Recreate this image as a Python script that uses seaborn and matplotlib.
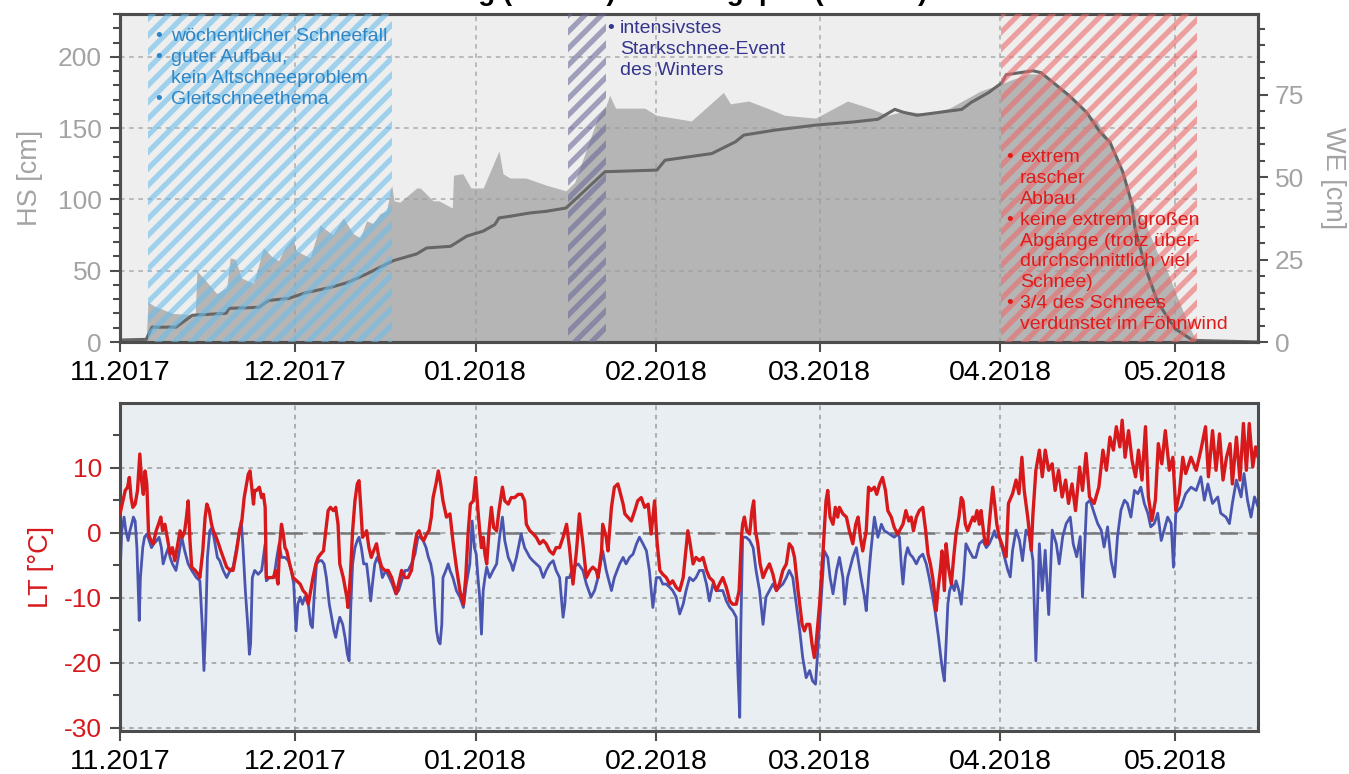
import numpy as np
import pandas as pd
import matplotlib
matplotlib.use("Agg")
import matplotlib.pyplot as plt
import matplotlib.dates as mdates
from matplotlib.ticker import MultipleLocator
import seaborn as sns

# ---------------------------------------------------------------------------
# Data (time given in days since 01.11.2017)
# ---------------------------------------------------------------------------
START = pd.Timestamp("2017-11-01")
X_END_DAYS = 195.2

# Snow depth HS [cm]
hs_days = [0, 4.5, 4.8, 6.0, 9.1, 12.9, 13.2, 16.6, 18.3, 18.9, 19.8, 20.8, 22.9,
           24.6, 26.0, 27.2, 28.3, 29.7, 30.2, 32.6, 34.3, 36.5, 38.3, 40.0, 41.2,
           42.3, 43.4, 44.6, 45.7, 46.6, 47.0, 48.0, 50.9, 51.5, 53.7, 54.7, 57.0,
           57.2, 58.8, 60.2, 62.3, 65.0, 65.7, 66.9, 69.6, 73.1, 76.5, 78.0, 80.0,
           82.0, 83.3, 84.0, 85.0, 90.0, 92.0, 98.0, 103.5, 104.7, 107.8, 111.0,
           114.0, 119.3, 124.8, 128.6, 131.7, 134.6, 138.5, 142.3, 145.4, 147.6,
           151.2, 153.0, 156.0, 158.0, 160.0, 163.0, 165.5, 167.6, 170.5, 172.0,
           173.8, 176.0, 178.0, 179.6, 181.5, 183.5, 184.7, 195.2]
hs_vals = [2, 2, 28, 25, 20, 19, 50, 34, 38, 59, 58, 45, 41,
           66, 60, 57, 66, 73, 64, 59, 82, 75, 87, 76, 73,
           85, 83, 90, 92, 110, 99, 98, 108, 108, 99, 99, 94,
           117, 118, 108, 108, 134, 118, 115, 115, 110, 106, 112, 135,
           158, 165, 173, 164, 164, 159, 155, 175, 167, 169, 164,
           159, 157, 169, 164, 159, 162, 160, 164, 171, 176,
           181, 184, 188, 188, 182, 172, 161, 155, 135, 120,
           97, 82, 62, 50, 30, 10, 0, 0]

# Water equivalent WE [cm]
we_days = [0, 4.5, 5.0, 5.5, 9.6, 12.4, 18.2, 18.7, 23.8, 25.5, 28.9, 32.0, 36.0,
           39.0, 42.4, 46.8, 50.9, 52.6, 56.7, 59.5, 62.3, 64.3, 65.0, 66.9, 70.3,
           73.1, 76.5, 83.2, 92.1, 93.5, 101.5, 105.6, 107.0, 112.3, 119.2, 125.9,
           130.0, 132.9, 134.4, 136.7, 144.4, 146.0, 149.0, 151.3, 152.0, 156.6,
           158.0, 162.8, 165.8, 168.1, 169.8, 172.0, 173.6, 174.1, 176.0, 178.0,
           181.0, 184.0, 195.2]
we_vals = [0.6, 0.8, 2.7, 4.5, 4.5, 8.1, 8.7, 10.2, 10.5, 12.6, 13.2, 15.0, 16.5,
           18.0, 20.7, 24.6, 26.7, 28.5, 29.0, 32.1, 33.6, 35.6, 37.6, 38.1, 39.1,
           39.6, 40.6, 51.6, 52.1, 55.1, 57.1, 60.7, 62.7, 64.2, 65.7, 66.7,
           67.5, 70.5, 69.6, 68.7, 70.5, 72.6, 75.6, 78.6, 81.0, 82.2,
           81.6, 74.7, 69.6, 63.6, 60.6, 51.6, 41.7, 34.5, 22.0, 12.0,
           4.0, 0.5, 0.0]

# Air temperature LT [°C] (red), in four stretches
lt_days_a = [0.0, 0.5, 0.9, 1.3, 1.6, 1.9, 2.2, 2.6, 3.0, 3.4,
             3.7, 4.0, 4.3, 4.6, 4.9, 5.3, 5.7, 6.2, 6.6, 7.0,
             7.3, 7.7, 8.1, 8.6, 9.0, 9.4, 9.8, 10.3, 10.7, 11.1,
             11.4, 11.7, 12.0, 12.3, 12.9, 13.4, 13.7, 14.2, 14.6, 14.9,
             15.3, 15.7, 16.0, 16.5, 16.9, 17.3, 17.7, 18.3, 18.9, 19.4,
             20.0, 20.5, 20.9, 21.3, 21.7, 22.0, 22.3, 22.6, 22.9, 23.1,
             23.4, 23.9, 24.3, 24.6, 24.9, 25.1, 25.7, 26.3, 26.7, 27.1,
             27.4, 27.7, 28.0, 28.3, 28.6, 29.1, 29.7, 30.3, 30.9, 31.4,
             31.9, 32.3, 32.7, 33.1, 33.6, 34.0, 34.4, 34.9, 35.3, 35.7,
             36.1, 36.6, 37.0, 37.4, 37.7, 38.3, 38.9, 39.1, 39.5, 39.9,
             40.3, 40.7, 41.0, 41.3, 41.6, 42.0, 42.3, 42.7, 43.1, 43.5,
             44.0, 44.4, 44.9, 45.4, 46.0, 46.6, 47.1, 47.4, 47.9, 48.3,
             48.9, 49.4, 50.0, 50.4, 50.9, 51.3, 51.7, 52.1, 52.6, 53.0,
             53.4, 53.7, 54.2, 54.6, 55.0, 55.4, 56.0]
lt_vals_a = [2.9, 4.9, 6.5, 7.0, 8.5, 5.4, 3.9, 4.4, 6.5, 12.1,
             8.0, 5.9, 9.5, 7.5, -0.2, -1.2, -1.7, 0.3, 1.3, 2.4,
             0.3, 1.3, -0.7, -3.3, -2.3, -4.3, -2.3, 0.3, -0.7, 0.3,
             2.4, 4.9, -1.2, -5.3, -5.8, -6.4, -6.9, -2.8, 2.4, 4.4,
             3.4, 1.3, 0.3, -0.7, -1.7, -2.8, -3.8, -5.3, -5.8, -5.8,
             -2.8, 0.3, 1.8, 5.4, 7.5, 9.0, 9.5, 7.0, 4.4, 6.5,
             6.5, 7.0, 5.4, 5.9, 3.9, -6.9, -6.9, -6.9, -5.8, -7.9,
             -1.7, 1.3, -0.2, -2.3, -2.8, -4.8, -6.9, -7.4, -7.9, -8.9,
             -9.4, -11.0, -8.9, -6.9, -4.8, -3.8, -3.3, -2.8, 0.3, 3.4,
             3.9, 3.4, 3.9, 1.3, -4.8, -6.9, -9.9, -11.5, -6.9, 0.3,
             4.9, 7.5, 8.0, 3.9, -0.7, -0.2, 0.3, -2.3, -3.8, -2.8,
             -1.7, -3.8, -5.3, -5.8, -5.8, -6.9, -8.4, -9.4, -7.4, -5.8,
             -6.9, -6.9, -5.8, -2.8, -0.2, 0.3, -0.7, -1.2, -0.2, 0.3,
             2.4, 5.4, 7.5, 9.5, 7.5, 4.9, 2.4]

lt_days_b = [56.6, 57.1, 57.7, 58.3, 58.9, 59.3, 59.7, 60.1, 60.6, 61.0,
             61.4, 61.7, 62.0, 62.3, 62.6, 62.9, 63.3, 63.7, 64.1, 64.6,
             65.0, 65.6, 66.0, 66.6, 67.1, 67.7, 68.3, 68.9, 69.4, 69.7,
             70.3, 70.9, 71.4, 72.0, 72.6, 73.1, 73.7, 74.3, 74.8, 75.4,
             76.0, 76.6, 77.1, 77.7, 78.3, 78.8, 79.4, 80.0, 80.6, 81.1,
             81.7, 82.0, 82.6, 82.8, 83.4, 83.7, 84.3, 84.8, 85.4, 85.7,
             86.3, 86.6, 87.1, 87.7, 88.3, 88.8, 89.4, 90.0, 90.6, 91.1,
             91.7, 92.1, 92.6, 93.1, 93.7, 94.3, 94.8, 95.4, 96.0, 96.6,
             97.0, 97.4, 97.8, 98.3, 98.8, 99.4, 100.0, 100.6, 101.1, 101.7,
             102.3, 102.8, 103.4, 104.0, 104.6, 105.1, 105.7, 106.2, 106.6, 106.8,
             107.1, 107.5, 108.0, 108.4, 108.7, 109.0, 109.4, 109.8, 110.3, 110.8,
             111.4, 112.0, 112.6, 113.1, 113.7, 114.3, 114.8, 115.3, 115.7, 116.3,
             116.6, 117.0, 117.4, 117.8, 118.3, 118.7, 119.1, 119.4, 119.7, 120.0,
             120.3, 120.6, 120.8, 121.1, 121.4, 121.8, 122.3, 122.7, 123.1, 123.4,
             124.0, 124.6, 125.1, 125.7, 126.2, 126.6, 127.0, 127.4, 128.0, 128.4,
             128.8, 129.4, 129.8, 130.3, 130.8, 131.3, 131.7, 132.3, 132.8, 133.4]
lt_vals_b = [2.9, -1.2, -5.3, -8.9, -11.0, -6.9, -0.2, 4.4, 4.9, 8.5,
             3.4, 0.3, -2.3, -0.7, -3.3, -4.8, 0.3, 3.9, 0.8, 0.3,
             3.4, 7.0, 4.9, 4.4, 5.4, 5.4, 5.9, 5.9, 4.9, 1.3,
             0.3, -0.2, -0.7, -1.7, -1.2, -1.7, -2.8, -3.3, -2.3, -2.3,
             -0.7, 1.3, -2.3, -7.9, -2.8, 2.9, -1.7, -6.9, -5.8, -5.3,
             -5.8, -6.9, -2.8, 1.3, -0.7, -2.8, 3.9, 7.0, 7.5, 6.5,
             4.4, 2.9, 2.4, 1.8, 3.4, 4.9, 5.4, 3.9, 4.4, -0.2,
             4.9, -1.2, -5.8, -6.4, -6.9, -7.9, -7.4, -8.4, -8.9, -6.9,
             -3.3, 0.3, -1.7, -4.8, -3.8, -4.3, -3.8, -5.8, -6.9, -7.4,
             -8.9, -7.9, -6.9, -8.4, -10.5, -11.0, -11.0, -8.9, -0.7, 1.3,
             2.4, 0.3, -0.2, 3.4, 4.9, 0.3, -1.7, -4.8, -6.9, -5.8,
             -4.8, -6.4, -8.9, -7.9, -5.8, -4.8, -1.7, -2.3, -3.8, -8.9,
             -11.0, -14.1, -15.1, -14.1, -14.1, -17.1, -19.2, -17.1, -14.1, -11.0,
             -6.9, -2.8, 0.3, 4.9, 6.5, 2.4, 1.3, 3.9, 2.4, 3.9,
             2.9, 2.4, 0.3, -1.7, 1.3, 2.4, -0.7, -2.8, 0.3, 7.0,
             6.5, 7.0, 5.9, 7.5, 8.5, 6.5, 3.4, 2.4, 0.8, -0.2]

lt_days_c = [133.7, 134.3, 134.8, 135.3, 135.7, 136.1, 136.6, 137.1, 137.7, 138.2,
             138.6, 139.0, 139.4, 139.8, 140.0, 140.3, 140.7, 141.0, 141.4, 141.7,
             142.1, 142.6, 143.0, 143.4, 143.9, 144.3, 144.6, 145.0, 145.4, 145.8,
             146.3, 146.6, 147.0, 147.4, 147.7, 148.1, 148.4, 148.8, 149.2, 149.7,
             150.1, 150.4]
lt_vals_c = [0.3, 1.3, 3.4, 1.8, 2.4, 0.3, 2.4, 3.4, 3.9, 0.3,
             -3.3, -4.8, -6.9, -9.9, -12.0, -8.9, -5.8, -2.8, -8.9, -1.7,
             -5.3, -7.9, -3.8, -0.2, 2.4, 5.4, 4.9, 1.3, 0.3, 1.3,
             2.4, 1.8, 3.4, 1.3, 3.4, 0.3, -1.7, -1.7, 2.4, 7.0,
             3.9, 1.3]

lt_days_d = [150.8, 151.4, 152.0, 152.4, 153.1, 153.7, 154.2, 154.7, 155.1, 155.7,
             156.3, 156.6, 157.1, 157.7, 158.2, 158.7, 159.3, 159.9, 160.4, 161.0,
             161.6, 162.2, 162.7, 163.3, 163.9, 164.6, 165.1, 165.7, 166.3, 167.1,
             167.9, 168.6, 169.2, 169.8, 170.4, 170.9, 171.5, 171.9, 172.4, 173.0,
             173.6, 174.2, 174.7, 175.3, 175.9, 176.4, 177.0, 177.6, 178.1, 178.7,
             179.3, 180.0, 180.6, 181.1, 181.7, 182.3, 182.8, 183.7, 184.6, 185.4,
             186.2, 186.7, 187.4, 188.0, 188.6, 189.2, 189.8, 190.4, 190.8, 191.5,
             192.1, 192.7, 193.2, 193.7, 194.3, 194.8, 195.2]
lt_vals_d = [-0.6, -2.1, -3.7, 4.5, 6.0, 8.1, 6.0, 11.6, 6.5, 2.4,
             -2.7, 2.9, 9.6, 12.7, 8.6, 12.7, 9.6, 10.6, 6.5, 9.6,
             5.5, 8.1, 4.5, 7.5, 3.4, 10.1, 6.5, 12.2, 5.5, 4.5,
             7.0, 12.7, 9.6, 14.7, 12.7, 16.3, 13.2, 17.3, 11.6, 15.7,
             11.1, 8.6, 12.7, 8.1, 16.3, 5.5, 1.9, 5.0, 13.7, 10.6,
             15.7, 9.6, 11.6, 3.4, 6.0, 11.6, 9.1, 11.6, 9.6, 12.7,
             16.3, 8.6, 15.7, 9.6, 15.2, 8.1, 11.6, 13.7, 7.5, 14.7,
             8.1, 16.8, 9.6, 16.8, 10.1, 13.2, 11.6]

# Second temperature series (blue), same four stretches
ts_days_a = [0.0, 0.3, 0.7, 1.0, 1.4, 1.7, 2.0, 2.3, 2.6, 2.9,
             3.3, 3.5, 3.9, 4.2, 4.6, 5.0, 5.4, 5.8, 6.3, 6.7,
             7.1, 7.4, 7.9, 8.3, 8.6, 9.0, 9.6, 10.0, 10.6, 11.1,
             11.7, 12.3, 13.1, 13.7, 14.1, 14.4, 14.7, 15.0, 15.4, 15.8,
             16.3, 16.7, 17.1, 17.7, 18.3, 18.9, 19.4, 20.0, 20.5, 20.8,
             21.1, 21.5, 21.9, 22.2, 22.4, 22.7, 23.1, 23.7, 24.3, 24.9,
             25.1, 25.6, 26.0, 26.4, 26.9, 27.3, 27.7, 28.3, 28.9, 29.4,
             29.8, 30.2, 30.5, 30.9, 31.3, 31.7, 32.3, 32.7, 33.0, 33.3,
             33.7, 34.2, 34.6, 35.0, 35.4, 35.9, 36.3, 36.7, 37.0, 37.4,
             37.7, 38.2, 38.6, 39.0, 39.3, 39.6, 39.9, 40.3, 40.7, 41.0,
             41.4, 41.8, 42.3, 42.7, 43.0, 43.3, 43.7, 44.1, 44.6, 45.0,
             45.6, 46.2, 46.7, 47.3, 47.8, 48.3, 48.9, 49.4, 50.0, 50.6,
             51.1, 51.5, 52.0, 52.5, 52.9, 53.3, 53.7, 54.0, 54.3, 54.6,
             54.9, 55.2, 55.4, 55.9, 56.3]
ts_vals_a = [-6.9, 0.3, 2.4, 0.3, -1.2, 0.3, 1.3, 2.4, 1.8, -2.3,
             -13.5, -6.9, -2.3, -0.7, -0.2, -1.2, -2.3, -1.7, -1.2, -0.7,
             -2.3, -4.8, -3.3, -2.3, -3.8, -4.8, -5.8, -3.8, -0.7, -2.8,
             -4.8, -5.8, -6.9, -7.4, -14.1, -21.2, -14.1, -3.8, 0.3, 0.8,
             -1.7, -3.8, -4.3, -5.8, -6.9, -5.8, -5.3, -2.3, 0.3, 1.8,
             -2.3, -8.9, -14.1, -18.7, -17.1, -6.9, -5.8, -6.4, -5.8, -1.7,
             -7.4, -6.9, -6.9, -6.9, -3.8, -1.7, -3.8, -3.8, -4.3, -5.8,
             -7.9, -15.1, -11.0, -9.9, -11.0, -9.9, -11.0, -14.1, -14.6, -9.9,
             -4.8, -4.3, -4.3, -4.8, -6.9, -11.0, -13.0, -15.1, -16.1, -14.1,
             -13.0, -14.1, -16.1, -18.7, -19.7, -11.0, -4.8, -2.3, -1.2, -0.7,
             -2.3, -4.8, -4.8, -7.9, -10.5, -7.9, -4.8, -3.8, -4.8, -6.9,
             -5.8, -6.9, -7.9, -9.4, -8.9, -7.4, -5.8, -5.8, -4.8, -3.3,
             -0.7, -0.7, -1.2, -2.3, -3.8, -4.8, -6.9, -11.5, -15.1, -16.6,
             -17.1, -14.1, -6.9, -5.8, -4.8]

ts_days_b = [56.6, 57.1, 57.7, 58.3, 58.9, 59.4, 60.0, 60.4, 60.8, 61.1,
             61.4, 61.7, 62.0, 62.3, 62.6, 62.9, 63.4, 64.0, 64.6, 65.1,
             65.6, 66.0, 66.6, 67.1, 67.4, 68.0, 68.8, 69.4, 70.3, 70.8,
             71.4, 72.0, 72.6, 73.1, 73.7, 74.3, 74.8, 75.4, 76.0, 76.3,
             76.6, 77.1, 77.7, 78.6, 79.4, 80.0, 80.8, 81.4, 82.0, 82.8,
             83.4, 84.3, 84.8, 85.7, 86.3, 86.8, 87.4, 88.0, 88.6, 89.1,
             89.7, 90.3, 90.8, 91.4, 92.0, 92.6, 93.1, 93.7, 94.3, 94.8,
             95.4, 96.0, 96.6, 97.1, 97.7, 98.3, 98.8, 99.4, 100.0, 100.6,
             101.1, 101.7, 102.3, 102.8, 103.4, 104.0, 104.6, 105.1, 105.7, 106.0,
             106.3, 106.5, 106.8, 107.4, 108.0, 108.6, 109.1, 109.7, 110.3, 110.8,
             111.4, 112.0, 112.6, 113.1, 113.7, 114.3, 114.8, 115.4, 116.0, 116.6,
             117.1, 117.7, 118.3, 118.8, 119.3, 119.7, 120.0, 120.5, 120.8, 121.4,
             121.8, 122.3, 122.9, 123.4, 124.0, 124.3, 124.8, 125.7, 126.3, 127.1,
             127.7, 128.0, 128.4, 128.8, 129.4, 130.0, 130.6, 131.1, 132.0, 132.8,
             133.4]
ts_vals_b = [-5.8, -6.9, -8.9, -9.9, -11.5, -7.9, -4.8, 1.8, -2.3, -3.3,
             -6.9, -9.9, -15.6, -8.9, -6.9, -5.3, -6.9, -5.8, -4.8, -0.7,
             2.4, -1.2, -3.8, -4.8, -5.8, -3.8, -0.2, -2.3, -3.8, -4.3,
             -4.8, -5.3, -6.9, -5.8, -4.8, -4.3, -5.8, -6.9, -13.0, -11.0,
             -6.9, -6.9, -5.3, -4.8, -5.8, -7.9, -9.9, -8.9, -6.9, -2.8,
             -5.8, -8.9, -6.9, -4.8, -3.8, -4.8, -3.8, -3.3, -1.7, -0.7,
             -1.7, -2.8, -5.8, -11.5, -6.9, -6.9, -7.9, -7.9, -8.4, -8.9,
             -9.9, -12.5, -11.0, -8.9, -6.9, -7.4, -6.9, -5.8, -5.8, -7.9,
             -10.5, -7.9, -8.9, -8.9, -8.9, -10.5, -11.5, -12.0, -13.0, -21.7,
             -28.4, -14.1, -0.7, -0.7, -1.2, -2.3, -5.8, -8.9, -14.1, -9.9,
             -8.9, -7.9, -8.9, -8.4, -7.9, -6.9, -5.8, -6.9, -11.0, -15.1,
             -19.2, -22.3, -21.2, -22.8, -23.3, -18.1, -14.1, -6.9, -2.8, -3.8,
             -6.9, -9.4, -5.8, -3.8, -6.9, -11.0, -6.9, -3.8, -2.3, -6.9,
             -9.9, -12.0, -6.9, -2.8, 2.4, -0.7, 1.3, 0.3, -0.2, -0.7,
             -0.2]

ts_days_c = [133.7, 134.0, 134.3, 134.7, 135.1, 135.5, 136.0, 136.6, 137.1, 137.7,
             138.3, 138.8, 139.4, 139.8, 140.1, 140.4, 140.8, 141.1, 141.4, 141.7,
             142.0, 142.3, 142.7, 143.1, 143.4, 143.9, 144.3, 144.7, 145.1, 145.7,
             146.3, 146.8, 147.4, 148.0, 148.6, 149.1, 149.6, 150.0, 150.3]
ts_vals_c = [-0.7, -4.8, -7.9, -3.8, -2.3, -3.3, -3.8, -4.8, -3.8, -3.3,
             -4.8, -6.9, -9.9, -12.0, -14.1, -16.1, -19.2, -21.2, -22.8, -17.1,
             -11.0, -8.9, -7.9, -8.9, -7.4, -8.9, -11.0, -6.9, -1.7, -2.8,
             -3.8, -3.8, -1.7, -1.2, -2.3, -1.7, -0.7, 0.3, -0.7]

ts_days_d = [150.8, 151.4, 152.3, 152.7, 153.1, 153.7, 154.3, 154.8, 155.4, 156.0,
             156.6, 157.1, 157.7, 158.2, 158.7, 159.3, 159.9, 160.6, 161.1, 161.7,
             162.3, 163.0, 163.5, 164.1, 164.7, 165.1, 165.8, 166.4, 167.1, 167.7,
             168.3, 168.8, 169.4, 170.0, 170.6, 171.1, 171.7, 172.3, 172.8, 173.4,
             174.0, 174.6, 175.1, 175.7, 176.3, 176.8, 177.4, 178.0, 178.6, 179.1,
             179.7, 180.3, 180.7, 181.1, 182.0, 182.8, 183.7, 184.6, 185.4, 186.0,
             186.6, 187.4, 188.3, 188.8, 189.7, 190.3, 190.8, 191.5, 192.3, 192.8,
             193.4, 194.0, 194.6, 195.2]
ts_vals_d = [-0.6, -2.7, -5.8, -6.8, -2.7, 0.4, -1.2, -4.3, 0.4, -0.6,
             -4.3, -19.7, -1.7, -8.9, -2.7, -12.6, 0.4, -1.7, -4.8, -0.6,
             1.4, 2.4, -1.7, -3.7, -0.6, -9.9, 4.5, 5.0, 3.0, 1.4,
             0.4, -2.2, 0.9, -4.3, -6.8, -0.6, 3.5, 5.0, 4.5, 2.4,
             6.5, 6.0, 7.0, 4.5, 3.0, 0.9, 1.4, 3.0, -1.2, 0.4,
             2.4, 1.4, -5.3, 3.0, 4.0, 6.0, 7.0, 6.5, 8.6, 5.0,
             7.5, 4.5, 5.5, 3.0, 2.4, 1.4, 4.5, 8.1, 5.5, 9.1,
             5.0, 2.4, 5.5, 4.0]

lt_days = lt_days_a + lt_days_b + lt_days_c + lt_days_d
lt_vals = lt_vals_a + lt_vals_b + lt_vals_c + lt_vals_d
ts_days = ts_days_a + ts_days_b + ts_days_c + ts_days_d
ts_vals = ts_vals_a + ts_vals_b + ts_vals_c + ts_vals_d

# Highlighted periods (days) and their notes
blue_period = (4.8, 46.7)
purple_period = (76.8, 83.4)
red_period = (151.1, 184.7)

blue_notes = ["wöchentlicher Schneefall", "guter Aufbau,", "kein Altschneeproblem",
              "Gleitschneethema"]
blue_bullets = [True, True, False, True]
purple_notes = ["intensivstes", "Starkschnee-Event", "des Winters"]
purple_bullets = [True, False, False]
red_notes = ["extrem", "rascher", "Abbau", "keine extrem großen",
             "Abgänge (trotz über-", "durchschnittlich viel", "Schnee)",
             "3/4 des Schnees", "verdunstet im Föhnwind"]
red_bullets = [True, False, False, True, False, False, False, True, False]

title_text = "Schneehöhe Dorfberg (1800 m) und Ringspitz (2630 m)"


def to_dates(days):
    return START + pd.to_timedelta(np.asarray(days, dtype=float), unit="D")


# ---------------------------------------------------------------------------
# Style
# ---------------------------------------------------------------------------
sns.set_theme(style="white")
plt.rcParams["font.family"] = ["Liberation Sans", "DejaVu Sans"]
plt.rcParams["hatch.linewidth"] = 3.8
plt.rcParams["axes.unicode_minus"] = False

W, H = 1349, 774
fig = plt.figure(figsize=(W / 100, H / 100), dpi=100)
fig.patch.set_facecolor("white")

ax_hs = fig.add_axes([120 / W, 1 - 342 / H, 1138 / W, 328 / H])
ax_we = ax_hs.twinx()
ax_lt = fig.add_axes([120 / W, 1 - 731 / H, 1138 / W, 328 / H])

x0, x1 = to_dates([0, X_END_DAYS])

SPINE = "#4d4d4d"
GRAY_TXT = "#a3a3a3"
RED = "#d7191c"
BLUE_LINE = "#4a55b0"

# ---------------------------------------------------------------------------
# Top panel: snow depth area + water equivalent line
# ---------------------------------------------------------------------------
ax_hs.set_facecolor("#eeeeee")
ax_hs.fill_between(to_dates(hs_days), 0, hs_vals, color="#b5b5b5", lw=0, zorder=1)
ax_hs.set_ylim(0, 230)
ax_we.set_ylim(0, 99.4)

ax_hs.set_axisbelow(False)
ax_hs.grid(True, axis="both", which="major", color="#9c9c9c", lw=1.1,
           ls=(0, (3, 3)), alpha=0.8)

sns.lineplot(x=to_dates(we_days), y=we_vals, ax=ax_we, color="#666666", lw=2.2,
             estimator=None, sort=False, zorder=2)

spans = [(blue_period, (0.42, 0.74, 0.92)),
         (purple_period, (0.42, 0.41, 0.60)),
         (red_period, (0.93, 0.42, 0.42))]
for (d0, d1), col in spans:
    t0, t1 = to_dates([d0, d1])
    ax_we.axvspan(t0, t1, facecolor="none", edgecolor=col, hatch="//", lw=0,
                  alpha=0.6, zorder=3)


def notes(ax, x_bullet, x_text, y_top, lines, bullets, color):
    kw = dict(transform=ax.transAxes, fontsize=14, color=color, va="top",
              ha="left", linespacing=1.3, zorder=5)
    ax.text(x_text, y_top, "\n".join(lines), **kw)
    ax.text(x_bullet, y_top, "\n".join("•" if b else " " for b in bullets), **kw)


def ax_x(px):
    return (px - 120) / 1138


def ax_y(py):
    return 1 - (py - 14) / 328


notes(ax_we, ax_x(155), ax_x(171), ax_y(28), blue_notes, blue_bullets, "#2c86c8")
notes(ax_we, ax_x(607), ax_x(620), ax_y(20), purple_notes, purple_bullets, "#34348e")
notes(ax_we, ax_x(1006), ax_x(1020), ax_y(149), red_notes, red_bullets, "#e01b1b")

ax_hs.set_ylabel("HS [cm]", color=GRAY_TXT, fontsize=19.5)
ax_we.set_ylabel("WE [cm]", color=GRAY_TXT, fontsize=19.5, rotation=-90,
                 labelpad=30)
ax_hs.yaxis.set_major_locator(MultipleLocator(50))
ax_hs.yaxis.set_minor_locator(MultipleLocator(10))
ax_we.yaxis.set_major_locator(MultipleLocator(25))
ax_we.yaxis.set_minor_locator(MultipleLocator(5))

# ---------------------------------------------------------------------------
# Bottom panel: temperatures
# ---------------------------------------------------------------------------
ax_lt.set_facecolor("#e8eef1")
ax_lt.set_axisbelow(True)
ax_lt.grid(True, axis="both", which="major", color="#9c9c9c", lw=1.1,
           ls=(0, (3, 3)))
ax_lt.axhline(0, color="#777777", lw=1.8, ls=(0, (7, 4)), zorder=1)
sns.lineplot(x=to_dates(ts_days), y=ts_vals, ax=ax_lt, color=BLUE_LINE, lw=2.0,
             estimator=None, sort=False, zorder=2)
sns.lineplot(x=to_dates(lt_days), y=lt_vals, ax=ax_lt, color=RED, lw=2.4,
             estimator=None, sort=False, zorder=3)
ax_lt.set_ylim(-30.5, 19.95)
ax_lt.yaxis.set_major_locator(MultipleLocator(10))
ax_lt.yaxis.set_minor_locator(MultipleLocator(5))
ax_lt.set_ylabel("LT [°C]", color=RED, fontsize=19.5)

# ---------------------------------------------------------------------------
# Shared axis formatting
# ---------------------------------------------------------------------------
for ax in (ax_hs, ax_lt):
    ax.set_xlim(x0, x1)
    ax.xaxis.set_major_locator(mdates.MonthLocator())
    ax.xaxis.set_major_formatter(mdates.DateFormatter("%m.%Y"))
    ax.set_xlabel("")
    ax.tick_params(axis="x", which="major", direction="out", length=7, width=1.5,
                   color=SPINE, labelsize=20.5, labelcolor="black", pad=6,
                   bottom=True)
ax_we.set_xlim(x0, x1)
ax_we.set_xlabel("")

for ax, lc in ((ax_hs, GRAY_TXT), (ax_lt, RED)):
    ax.tick_params(axis="y", which="both", direction="out", left=True,
                   color=SPINE, width=1.5, labelsize=19, labelcolor=lc, pad=6)
    ax.tick_params(axis="y", which="major", length=7)
    ax.tick_params(axis="y", which="minor", length=5)
ax_we.tick_params(axis="y", which="both", direction="out", right=True,
                  color=SPINE, width=1.5, labelsize=19, labelcolor=GRAY_TXT, pad=5)
ax_we.tick_params(axis="y", which="major", length=7)
ax_we.tick_params(axis="y", which="minor", length=5)

for ax in (ax_hs, ax_we, ax_lt):
    for sp in ax.spines.values():
        sp.set_color(SPINE)
        sp.set_linewidth(2.2)
        sp.set_visible(True)

ax_hs.yaxis.set_label_coords(-0.068, 0.5)
ax_lt.yaxis.set_label_coords(-0.058, 0.5)

# Heading sits at the very top edge of the figure
fig.text(205 / W, 1.0, title_text, ha="left", va="baseline",
         fontsize=20, fontweight="bold", color="black")

fig.savefig("out.png", dpi=100, facecolor="white")
